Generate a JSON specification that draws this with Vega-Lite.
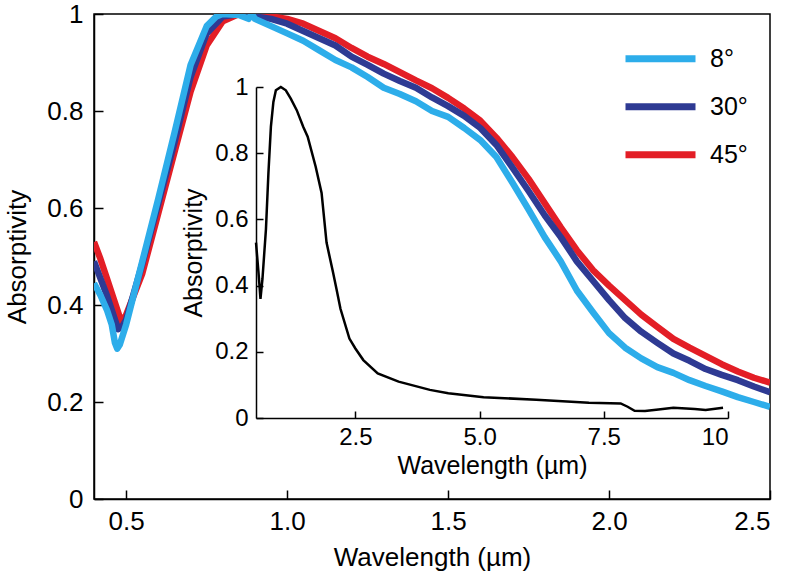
{
  "$schema": "https://vega.github.io/schema/vega-lite/v6.json",
  "width": 676,
  "height": 485,
  "autosize": "none",
  "padding": {"left": 94, "top": 14, "right": 18, "bottom": 77},
  "background": "white",
  "config": {
    "font": "Liberation Sans",
    "view": {"stroke": "black", "strokeWidth": 1.5},
    "axis": {
      "grid": false,
      "domainColor": "black",
      "domainWidth": 1.5,
      "tickColor": "black",
      "tickWidth": 1.5,
      "labelColor": "black",
      "titleColor": "black",
      "titleFontWeight": "normal",
      "labelFont": "Liberation Sans",
      "titleFont": "Liberation Sans"
    },
    "legend": {
      "labelFont": "Liberation Sans",
      "labelColor": "black"
    }
  },
  "datasets": {
    "main": [
      {"w":0.40,"a":0.445,"g":"8°"},{"w":0.42,"a":0.42,"g":"8°"},{"w":0.44,"a":0.39,"g":"8°"},{"w":0.455,"a":0.36,"g":"8°"},{"w":0.465,"a":0.322,"g":"8°"},{"w":0.472,"a":0.31,"g":"8°"},{"w":0.48,"a":0.318,"g":"8°"},{"w":0.50,"a":0.36,"g":"8°"},{"w":0.55,"a":0.49,"g":"8°"},{"w":0.60,"a":0.62,"g":"8°"},{"w":0.65,"a":0.755,"g":"8°"},{"w":0.70,"a":0.895,"g":"8°"},{"w":0.75,"a":0.975,"g":"8°"},{"w":0.78,"a":0.995,"g":"8°"},{"w":0.80,"a":1.0,"g":"8°"},{"w":0.85,"a":0.998,"g":"8°"},{"w":0.88,"a":0.99,"g":"8°"},{"w":0.89,"a":1.0,"g":"8°"},{"w":0.90,"a":0.99,"g":"8°"},{"w":0.95,"a":0.975,"g":"8°"},{"w":1.00,"a":0.96,"g":"8°"},{"w":1.05,"a":0.945,"g":"8°"},{"w":1.10,"a":0.925,"g":"8°"},{"w":1.15,"a":0.905,"g":"8°"},{"w":1.20,"a":0.89,"g":"8°"},{"w":1.25,"a":0.87,"g":"8°"},{"w":1.30,"a":0.848,"g":"8°"},{"w":1.35,"a":0.835,"g":"8°"},{"w":1.40,"a":0.82,"g":"8°"},{"w":1.45,"a":0.80,"g":"8°"},{"w":1.50,"a":0.788,"g":"8°"},{"w":1.55,"a":0.765,"g":"8°"},{"w":1.60,"a":0.74,"g":"8°"},{"w":1.65,"a":0.705,"g":"8°"},{"w":1.70,"a":0.652,"g":"8°"},{"w":1.75,"a":0.597,"g":"8°"},{"w":1.80,"a":0.54,"g":"8°"},{"w":1.85,"a":0.49,"g":"8°"},{"w":1.90,"a":0.43,"g":"8°"},{"w":1.95,"a":0.385,"g":"8°"},{"w":2.00,"a":0.342,"g":"8°"},{"w":2.05,"a":0.312,"g":"8°"},{"w":2.10,"a":0.29,"g":"8°"},{"w":2.15,"a":0.272,"g":"8°"},{"w":2.20,"a":0.26,"g":"8°"},{"w":2.25,"a":0.245,"g":"8°"},{"w":2.30,"a":0.233,"g":"8°"},{"w":2.35,"a":0.222,"g":"8°"},{"w":2.40,"a":0.21,"g":"8°"},{"w":2.45,"a":0.2,"g":"8°"},{"w":2.50,"a":0.19,"g":"8°"},
      {"w":0.40,"a":0.49,"g":"30°"},{"w":0.42,"a":0.455,"g":"30°"},{"w":0.44,"a":0.42,"g":"30°"},{"w":0.46,"a":0.38,"g":"30°"},{"w":0.475,"a":0.35,"g":"30°"},{"w":0.49,"a":0.358,"g":"30°"},{"w":0.50,"a":0.37,"g":"30°"},{"w":0.55,"a":0.485,"g":"30°"},{"w":0.60,"a":0.61,"g":"30°"},{"w":0.65,"a":0.735,"g":"30°"},{"w":0.70,"a":0.87,"g":"30°"},{"w":0.75,"a":0.96,"g":"30°"},{"w":0.80,"a":0.995,"g":"30°"},{"w":0.85,"a":1.0,"g":"30°"},{"w":0.90,"a":0.995,"g":"30°"},{"w":0.95,"a":0.99,"g":"30°"},{"w":1.00,"a":0.98,"g":"30°"},{"w":1.05,"a":0.965,"g":"30°"},{"w":1.10,"a":0.95,"g":"30°"},{"w":1.15,"a":0.935,"g":"30°"},{"w":1.20,"a":0.912,"g":"30°"},{"w":1.25,"a":0.895,"g":"30°"},{"w":1.30,"a":0.877,"g":"30°"},{"w":1.35,"a":0.862,"g":"30°"},{"w":1.40,"a":0.848,"g":"30°"},{"w":1.45,"a":0.828,"g":"30°"},{"w":1.50,"a":0.81,"g":"30°"},{"w":1.55,"a":0.79,"g":"30°"},{"w":1.60,"a":0.765,"g":"30°"},{"w":1.65,"a":0.73,"g":"30°"},{"w":1.70,"a":0.683,"g":"30°"},{"w":1.75,"a":0.635,"g":"30°"},{"w":1.80,"a":0.585,"g":"30°"},{"w":1.85,"a":0.54,"g":"30°"},{"w":1.90,"a":0.49,"g":"30°"},{"w":1.95,"a":0.45,"g":"30°"},{"w":2.00,"a":0.41,"g":"30°"},{"w":2.05,"a":0.373,"g":"30°"},{"w":2.10,"a":0.345,"g":"30°"},{"w":2.15,"a":0.322,"g":"30°"},{"w":2.20,"a":0.30,"g":"30°"},{"w":2.25,"a":0.285,"g":"30°"},{"w":2.30,"a":0.268,"g":"30°"},{"w":2.35,"a":0.256,"g":"30°"},{"w":2.40,"a":0.245,"g":"30°"},{"w":2.45,"a":0.232,"g":"30°"},{"w":2.50,"a":0.22,"g":"30°"},
      {"w":0.40,"a":0.53,"g":"45°"},{"w":0.42,"a":0.495,"g":"45°"},{"w":0.44,"a":0.455,"g":"45°"},{"w":0.46,"a":0.415,"g":"45°"},{"w":0.485,"a":0.365,"g":"45°"},{"w":0.50,"a":0.38,"g":"45°"},{"w":0.55,"a":0.465,"g":"45°"},{"w":0.60,"a":0.59,"g":"45°"},{"w":0.65,"a":0.715,"g":"45°"},{"w":0.70,"a":0.84,"g":"45°"},{"w":0.75,"a":0.935,"g":"45°"},{"w":0.80,"a":0.985,"g":"45°"},{"w":0.85,"a":1.0,"g":"45°"},{"w":0.90,"a":1.0,"g":"45°"},{"w":0.95,"a":0.995,"g":"45°"},{"w":1.00,"a":0.99,"g":"45°"},{"w":1.05,"a":0.98,"g":"45°"},{"w":1.10,"a":0.965,"g":"45°"},{"w":1.15,"a":0.95,"g":"45°"},{"w":1.20,"a":0.93,"g":"45°"},{"w":1.25,"a":0.912,"g":"45°"},{"w":1.30,"a":0.897,"g":"45°"},{"w":1.35,"a":0.88,"g":"45°"},{"w":1.40,"a":0.863,"g":"45°"},{"w":1.45,"a":0.847,"g":"45°"},{"w":1.50,"a":0.827,"g":"45°"},{"w":1.55,"a":0.805,"g":"45°"},{"w":1.60,"a":0.78,"g":"45°"},{"w":1.65,"a":0.745,"g":"45°"},{"w":1.70,"a":0.705,"g":"45°"},{"w":1.75,"a":0.66,"g":"45°"},{"w":1.80,"a":0.61,"g":"45°"},{"w":1.85,"a":0.56,"g":"45°"},{"w":1.90,"a":0.513,"g":"45°"},{"w":1.95,"a":0.472,"g":"45°"},{"w":2.00,"a":0.44,"g":"45°"},{"w":2.05,"a":0.41,"g":"45°"},{"w":2.10,"a":0.38,"g":"45°"},{"w":2.15,"a":0.355,"g":"45°"},{"w":2.20,"a":0.33,"g":"45°"},{"w":2.25,"a":0.312,"g":"45°"},{"w":2.30,"a":0.295,"g":"45°"},{"w":2.35,"a":0.278,"g":"45°"},{"w":2.40,"a":0.263,"g":"45°"},{"w":2.45,"a":0.25,"g":"45°"},{"w":2.50,"a":0.24,"g":"45°"}
    ],
    "inset": [
      {"w":0.5,"a":0.53},{"w":0.55,"a":0.44},{"w":0.59,"a":0.36},{"w":0.63,"a":0.42},{"w":0.7,"a":0.57},{"w":0.75,"a":0.74},{"w":0.8,"a":0.88},{"w":0.85,"a":0.955},{"w":0.9,"a":0.99},{"w":1.0,"a":1.0},{"w":1.1,"a":0.99},{"w":1.2,"a":0.965},{"w":1.32,"a":0.93},{"w":1.45,"a":0.88},{"w":1.54,"a":0.85},{"w":1.7,"a":0.76},{"w":1.82,"a":0.68},{"w":1.92,"a":0.53},{"w":2.05,"a":0.44},{"w":2.12,"a":0.39},{"w":2.2,"a":0.33},{"w":2.38,"a":0.24},{"w":2.5,"a":0.21},{"w":2.66,"a":0.175},{"w":2.95,"a":0.135},{"w":3.37,"a":0.11},{"w":4.0,"a":0.085},{"w":4.37,"a":0.075},{"w":5.08,"a":0.063},{"w":6.14,"a":0.055},{"w":7.2,"a":0.046},{"w":7.84,"a":0.044},{"w":7.98,"a":0.034},{"w":8.12,"a":0.022},{"w":8.33,"a":0.021},{"w":8.6,"a":0.026},{"w":8.9,"a":0.031},{"w":9.33,"a":0.027},{"w":9.55,"a":0.024},{"w":9.9,"a":0.031}
    ]
  },
  "layer": [
    {
      "data": {"name": "main"},
      "encoding": {
        "x": {"field": "w", "type": "quantitative",
          "scale": {"domain": [0.4, 2.5], "nice": false, "zero": false},
          "axis": {"orient": "bottom", "values": [0.5, 1, 1.5, 2, 2.5], "format": ".1f",
            "title": "Wavelength (µm)", "labelFontSize": 26, "titleFontSize": 26,
            "tickSize": -9, "labelPadding": 18, "titlePadding": 10}},
        "y": {"field": "a", "type": "quantitative",
          "scale": {"domain": [0, 1], "nice": false},
          "axis": {"orient": "left", "values": [0, 0.2, 0.4, 0.6, 0.8, 1], "format": "~g",
            "title": "Absorptivity", "labelFontSize": 26, "titleFontSize": 26,
            "tickSize": -9, "labelPadding": 20, "titlePadding": 16}},
        "color": {"field": "g", "type": "nominal",
          "scale": {"domain": ["8°", "30°", "45°"], "range": ["#2dadea", "#2e3a93", "#e31e26"]},
          "legend": {"title": null, "orient": "none", "legendX": 528, "legendY": 21,
            "symbolType": "stroke", "symbolSize": 4900, "symbolStrokeWidth": 7,
            "labelFontSize": 25, "rowPadding": 0, "clipHeight": 47.5, "labelOffset": 11, "padding": 0}}
      },
      "layer": [
        {"transform": [{"filter": "datum.g === '45°'"}], "mark": {"type": "line", "strokeWidth": 6.5, "clip": true, "strokeJoin": "round"}},
        {"transform": [{"filter": "datum.g === '30°'"}], "mark": {"type": "line", "strokeWidth": 6.5, "clip": true, "strokeJoin": "round"}},
        {"transform": [{"filter": "datum.g === '8°'"}], "mark": {"type": "line", "strokeWidth": 6.5, "clip": true, "strokeJoin": "round"}}
      ]
    },
    {
      "data": {"name": "inset"},
      "mark": {"type": "line", "color": "black", "strokeWidth": 2.5},
      "encoding": {
        "x": {"field": "w", "type": "quantitative",
          "scale": {"domain": [0.5, 10], "nice": false, "zero": false, "range": [162, 634]},
          "axis": {"orient": "bottom", "offset": -81, "values": [2.5, 5, 7.5, 10],
            "labelExpr": "datum.value == 10 ? '10' : format(datum.value, '.1f')",
            "title": "Wavelength (µm)", "labelFontSize": 24, "titleFontSize": 25,
            "tickSize": -7, "labelPadding": 14, "titlePadding": 4}},
        "y": {"field": "a", "type": "quantitative",
          "scale": {"domain": [0, 1], "nice": false, "range": [404, 73]},
          "axis": {"orient": "left", "offset": -162, "values": [0, 0.2, 0.4, 0.6, 0.8, 1], "format": "~g",
            "title": "Absorptivity", "labelFontSize": 24, "titleFontSize": 25,
            "tickSize": -7, "labelPadding": 15, "titlePadding": 8}}
      }
    }
  ],
  "resolve": {
    "scale": {"x": "independent", "y": "independent"},
    "axis": {"x": "independent", "y": "independent"}
  }
}
